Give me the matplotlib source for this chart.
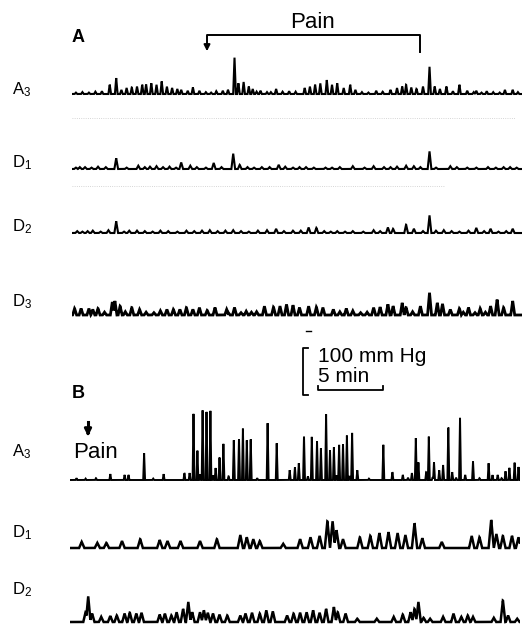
import numpy as np
import matplotlib
matplotlib.use("Agg")
import matplotlib.pyplot as plt

plt.rcParams["font.family"] = ["Liberation Sans", "DejaVu Sans"]

W, H = 522, 624
PX_PER_MIN = 13.0      # 5 min = 65 px
PX_PER_MMHG = 0.47     # 100 mm Hg = 47 px
SPAN_MIN = 34.6

# times in min from the start of each trace, pressures in mm Hg above baseline
# panel A
a_a3_t = [2.9, 3.4, 3.8, 4.2, 4.6, 5.0, 5.4, 5.7, 6.1, 6.5, 6.9, 7.3, 7.7, 8.1,
          8.4, 8.9, 9.3, 9.8, 11.1, 11.6, 12.0, 12.5, 12.8, 13.2, 13.6, 13.9,
          14.5, 15.0, 15.7, 17.9, 18.3, 18.7, 19.1, 19.6, 20.0, 20.4, 20.9,
          21.4, 21.8, 23.4, 24.5, 25.0, 25.4, 25.7, 26.1, 26.5, 27.0, 27.5,
          27.9, 28.3, 28.8, 29.8, 30.4, 31.1, 31.9, 33.3, 33.9]
a_a3_p = [20, 34, 9, 13, 14, 16, 20, 21, 23, 20, 27, 16, 13, 11,
          9, 7, 14, 7, 6, 7, 9, 78, 23, 26, 16, 11,
          7, 4, 11, 13, 16, 20, 23, 30, 20, 23, 13,
          20, 9, 7, 9, 13, 16, 20, 14, 11, 16, 59,
          16, 11, 16, 20, 7, 7, 6, 9, 9]
a_a3_rip_t = [0.3, 0.8, 1.3, 1.8, 2.3, 10.3, 10.7, 14.2, 15.3, 16.2, 16.7,
              17.2, 22.3, 22.8, 23.9, 29.3, 30.9, 31.5, 32.4, 32.9, 34.3]
a_a3_rip_p = [3, 4, 3, 5, 6, 4, 3, 5, 4, 5, 6,
              5, 4, 3, 5, 6, 4, 3, 4, 3, 4]

a_d1_t = [0.6, 1.5, 3.4, 5.1, 6.5, 8.4, 9.1, 10.9, 12.4, 12.9, 14.6, 15.9,
          17.5, 19.5, 21.6, 23.2, 24.5, 25.7, 26.3, 27.5, 29.1, 31.1, 33.7]
a_d1_p = [4, 3, 23, 7, 6, 14, 7, 13, 33, 9, 4, 9,
          4, 3, 6, 6, 4, 7, 6, 38, 6, 3, 4]
a_d1_rip_t = [0.3, 1.0, 2.0, 2.6, 4.2, 5.6, 6.0, 7.0, 7.5, 8.0, 9.6, 10.3,
              11.5, 13.5, 14.0, 15.2, 16.4, 17.0, 18.0, 18.6, 20.0, 20.6,
              22.5, 24.0, 25.0, 26.8, 28.0, 29.6, 30.4, 32.0, 32.6, 33.2, 34.2]
a_d1_rip_p = [3, 4, 5, 4, 3, 4, 5, 4, 5, 3, 4, 3,
              4, 4, 3, 4, 5, 3, 4, 3, 3, 4,
              3, 4, 5, 4, 3, 4, 3, 4, 3, 4, 3]

a_d2_t = [1.2, 3.4, 5.0, 6.8, 8.8, 10.6, 12.4, 15.0, 15.7, 17.0, 18.2, 18.8,
          20.4, 23.2, 24.3, 24.7, 25.7, 26.3, 27.5, 28.6, 31.1, 32.2, 33.9]
a_d2_p = [4, 25, 5, 5, 5, 6, 6, 6, 9, 5, 12, 11,
          4, 6, 12, 9, 18, 9, 38, 6, 11, 9, 9]
a_d2_rip_t = [0.4, 0.8, 1.6, 2.2, 2.8, 4.0, 4.4, 5.6, 6.2, 7.4, 8.1, 9.4,
              10.0, 11.2, 11.8, 13.0, 13.6, 14.3, 16.3, 17.6, 19.4, 19.9,
              21.0, 21.6, 22.4, 23.7, 27.0, 28.0, 29.2, 29.8, 30.5, 31.7,
              32.8, 33.4]
a_d2_rip_p = [4, 3, 5, 3, 6, 3, 5, 4, 3, 4, 3, 4,
              5, 4, 5, 4, 3, 5, 4, 5, 4, 3,
              3, 4, 3, 4, 4, 5, 4, 3, 5, 4,
              3, 4]

a_d3_t = [0.2, 0.7, 1.3, 1.6, 2.0, 3.1, 3.3, 3.7, 4.6, 5.2, 6.8, 7.3, 7.8,
          8.3, 8.8, 9.3, 9.8, 10.4, 11.0, 11.9, 12.5, 13.4, 14.2, 14.8, 15.5,
          16.0, 16.5, 17.0, 17.5, 18.2, 18.8, 19.3, 20.1, 21.1, 21.6, 23.2,
          23.7, 24.3, 24.7, 25.4, 25.7, 26.8, 27.5, 28.1, 28.5, 29.1, 29.8,
          30.5, 31.4, 32.2, 32.7, 33.2, 33.9]
a_d3_p = [14, 14, 14, 12, 14, 28, 30, 19, 16, 12, 9, 12, 12,
          12, 16, 12, 16, 10, 16, 12, 16, 8, 7, 19, 17,
          19, 23, 21, 16, 19, 17, 16, 12, 14, 9, 16,
          17, 23, 19, 26, 16, 19, 48, 26, 24, 12, 14,
          16, 14, 19, 33, 16, 30]
a_d3_rip_t = [2.5, 4.1, 5.7, 6.3, 12.0, 13.0, 13.8, 20.6, 22.2, 22.7, 26.2,
              30.1, 31.0, 31.8]
a_d3_rip_p = [6, 7, 6, 5, 6, 5, 6, 7, 5, 6, 7, 6, 5, 6]

# panel B
b_a3_t = [3.1, 4.2, 4.5, 5.7, 7.2, 8.8, 9.2, 9.5, 9.8, 10.2, 10.5, 10.8,
          11.2, 11.5, 11.8, 12.6, 13.0, 13.3, 13.6, 13.9, 15.2, 15.9, 16.9,
          17.3, 17.6, 18.0, 18.6, 19.0, 19.3, 19.7, 20.0, 20.3, 20.7, 21.0,
          21.3, 21.7, 22.1, 24.1, 24.8, 25.6, 26.3, 26.6, 26.8, 27.4, 27.6,
          28.0, 28.4, 28.7, 29.1, 29.4, 30.0, 30.4, 31.0, 31.5, 32.2, 32.5,
          32.9, 33.5, 33.8, 34.2, 34.5]
b_a3_p = [13, 11, 11, 58, 13, 15, 15, 143, 64, 149, 149, 149,
          26, 49, 77, 85, 89, 111, 85, 89, 121, 79, 21,
          28, 36, 94, 92, 85, 68, 143, 64, 70, 77, 77,
          96, 102, 21, 77, 17, 11, 15, 92, 38, 17, 94,
          38, 21, 32, 115, 17, 136, 11, 40, 4, 36, 11,
          11, 19, 26, 38, 28]
b_a3_rip_t = [0.5, 1.2, 2.0, 6.4, 10.0, 11.0, 12.2, 14.4, 18.3, 20.5, 21.5,
              23.0, 26.0, 27.9, 29.7, 33.2]
b_a3_rip_p = [4, 3, 4, 3, 12, 10, 8, 4, 8, 10, 9, 3, 5, 6, 5, 4]

b_d1_t = [0.9, 2.1, 2.8, 4.0, 5.4, 6.9, 7.5, 8.5, 10.0, 11.3, 13.1, 13.6,
          14.1, 14.6, 16.4, 17.7, 18.5, 19.2, 19.8, 20.2, 20.5, 21.0, 22.3,
          23.1, 23.8, 24.5, 25.2, 25.8, 26.5, 27.1, 28.6, 30.9, 31.5, 32.4,
          32.8, 33.3, 34.0, 34.5]
b_d1_p = [13, 11, 11, 15, 19, 17, 15, 15, 15, 19, 28, 23,
          19, 15, 9, 19, 23, 26, 57, 57, 38, 19, 23,
          26, 32, 34, 32, 28, 53, 21, 13, 26, 23, 60,
          30, 26, 26, 23]

b_d2_t = [1.2, 1.4, 1.7, 2.4, 3.1, 3.6, 4.2, 4.6, 5.1, 5.5, 6.9, 7.3, 7.8,
          8.2, 8.7, 9.1, 9.4, 10.0, 10.3, 10.6, 11.0, 11.5, 12.1, 13.1, 13.5,
          14.0, 14.6, 15.1, 15.6, 16.7, 17.2, 17.7, 18.2, 18.7, 19.2, 19.7,
          20.3, 20.6, 21.2, 22.1, 23.6, 24.9, 25.6, 26.2, 26.5, 26.8, 27.2,
          27.7, 28.7, 29.5, 30.1, 30.6, 31.0, 32.6, 33.3, 33.7, 34.4]
b_d2_p = [21, 55, 18, 11, 13, 14, 18, 20, 18, 20, 16, 18, 14,
          21, 28, 43, 21, 21, 25, 20, 18, 16, 14, 14, 18,
          20, 18, 25, 23, 14, 18, 20, 21, 25, 20, 28,
          32, 21, 18, 7, 7, 11, 16, 21, 28, 43, 9,
          7, 11, 18, 11, 14, 11, 9, 46, 14, 7]

# (label, label y, baseline y, start x, times, pressures, half width, line width)
traces = [
    ("A", 90, 94, 72, a_a3_t + a_a3_rip_t, a_a3_p + a_a3_rip_p, 0.10, 1.5),
    ("D1", 163, 169, 72, a_d1_t + a_d1_rip_t, a_d1_p + a_d1_rip_p, 0.14, 1.5),
    ("D2", 227, 233, 72, a_d2_t + a_d2_rip_t, a_d2_p + a_d2_rip_p, 0.14, 1.5),
    ("D3", 302, 315, 72, a_d3_t + a_d3_rip_t, a_d3_p + a_d3_rip_p, 0.15, 2.0),
    ("A", 452, 480, 70, b_a3_t + b_a3_rip_t, b_a3_p + b_a3_rip_p, 0.07, 1.4),
    ("D1", 533, 548, 70, b_d1_t, b_d1_p, 0.20, 1.8),
    ("D2", 590, 622, 70, b_d2_t, b_d2_p, 0.18, 1.8),
]
label_text = {"A": r"$\mathregular{A_3}$", "D1": r"$\mathregular{D_1}$",
              "D2": r"$\mathregular{D_2}$", "D3": r"$\mathregular{D_3}$"}


def pulse_trace(times, amps, half_width, t):
    y = np.zeros_like(t)
    for ti, ai in zip(times, amps):
        y = np.maximum(y, ai * np.clip(1 - np.abs(t - ti) / half_width, 0, None))
    return y


fig = plt.figure(figsize=(W / 100, H / 100), dpi=100)
ov = fig.add_axes([0, 0, 1, 1])
ov.set_xlim(0, W)
ov.set_ylim(H, 0)
ov.axis("off")

lo, hi = 15, 170
t = np.linspace(0, SPAN_MIN, 8000)
for key, label_y, base_y, x0, times, amps, hw, lw in traces:
    ax = fig.add_axes([x0 / W, 1 - (base_y + lo * PX_PER_MMHG) / H,
                       SPAN_MIN * PX_PER_MIN / W, (lo + hi) * PX_PER_MMHG / H])
    ax.plot(t, pulse_trace(times, amps, hw, t), color="black", lw=lw,
            solid_joinstyle="miter")
    ax.set_xlim(0, SPAN_MIN)
    ax.set_ylim(-lo, hi)
    ax.axis("off")
    ov.text(12, label_y, label_text[key], fontsize=12, ha="left", va="center")

# panel letters
ov.text(72, 37, "A", fontsize=13, fontweight="bold", ha="left", va="center")
ov.text(72, 393, "B", fontsize=13, fontweight="bold", ha="left", va="center")

# pain bracket in A
ov.plot([207, 207, 420, 420], [46, 35, 35, 52], color="black", lw=1.4)
ov.annotate("", xy=(207, 54), xytext=(207, 44),
            arrowprops=dict(arrowstyle="-|>", color="black", lw=1.4,
                            mutation_scale=9))
ov.text(313, 22, "Pain", fontsize=16, ha="center", va="center")

# pain arrow in B
ov.plot([88, 88], [422, 432], color="black", lw=2.2)
ov.annotate("", xy=(88, 439), xytext=(88, 430),
            arrowprops=dict(arrowstyle="-|>", color="black", lw=2.0,
                            mutation_scale=10))
ov.text(73, 452, "Pain", fontsize=16, ha="left", va="center")

# calibration bars
bar_top = 348
bar_bot = bar_top + 100 * PX_PER_MMHG
ov.plot([308, 303, 303, 308], [bar_top, bar_top, bar_bot, bar_bot],
        color="black", lw=1.3)
ov.plot([318, 318, 318 + 5 * PX_PER_MIN, 318 + 5 * PX_PER_MIN],
        [386, 390, 390, 386], color="black", lw=1.3)
ov.plot([306, 311], [331, 331], color="black", lw=1.0)
ov.text(318, 356, "100 mm Hg", fontsize=15, ha="left", va="center")
ov.text(318, 377, "5 min", fontsize=15, ha="left", va="center")

# faint ruling left on the chart paper
ov.plot([72, 515], [118, 118], color="#c8c8c8", lw=0.6, ls=":")
ov.plot([72, 445], [186, 186], color="#c8c8c8", lw=0.6, ls=":")

fig.savefig("out.png", dpi=100)
